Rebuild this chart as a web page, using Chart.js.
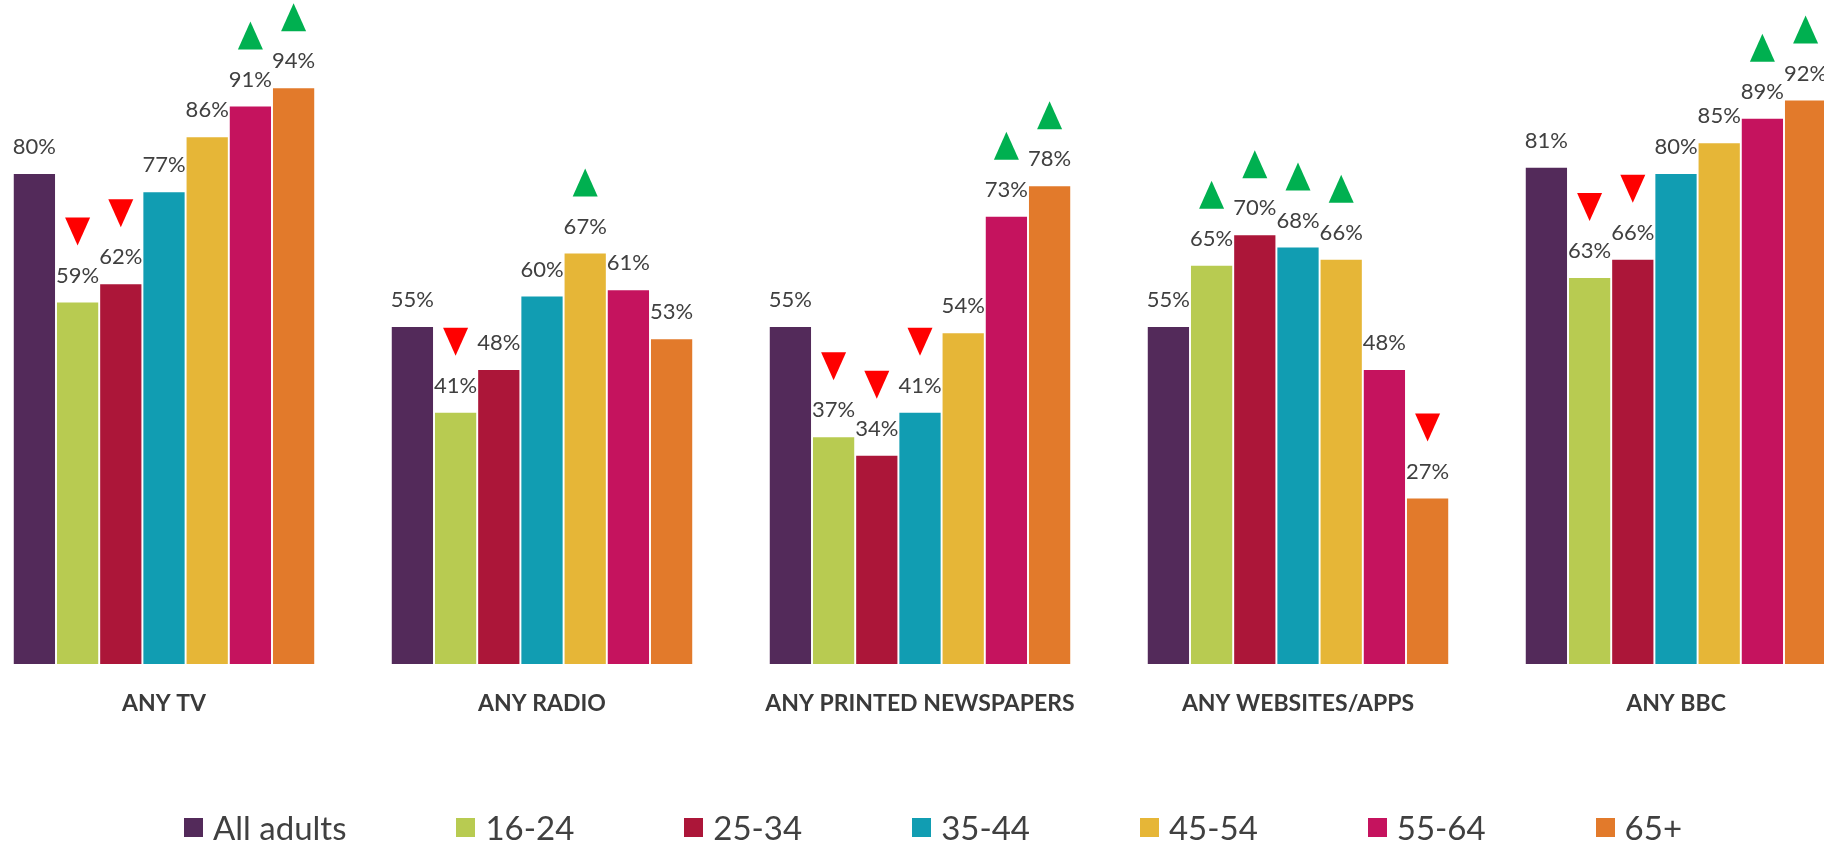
<!DOCTYPE html>
<html>
<head>
<meta charset="utf-8">
<script src="https://cdn.jsdelivr.net/npm/chart.js@4.4.1/dist/chart.umd.min.js"></script>
<style>
  html, body { margin: 0; padding: 0; width: 1824px; height: 841px; overflow: hidden; background: #fff; }
  #wrap { position: absolute; left: -25px; top: 0; width: 1890px; height: 841px; }
  #legend {
    position: absolute; left: -12px; width: 1890px; top: 807px;
    display: flex; justify-content: center;
    font-family: Lato, "Open Sans", sans-serif; font-size: 33px; line-height: 40px; color: #404040;
  }
  .item { display: flex; align-items: center; margin-right: 110px; white-space: nowrap; }
  .item:last-child { margin-right: 0; }
  .box { width: 19px; height: 19px; margin-right: 10px; }
</style>
</head>
<body>
<div id="wrap"><canvas id="c" width="1890" height="841"></canvas></div>
<div id="legend"></div>
<script>
// Reach of each medium by age group (%)
const categories = ['ANY TV', 'ANY RADIO', 'ANY PRINTED NEWSPAPERS', 'ANY WEBSITES/APPS', 'ANY BBC'];
const seriesNames = ['All adults', '16-24', '25-34', '35-44', '45-54', '55-64', '65+'];

const allAdults = [80, 55, 55, 55, 81];
const age16to24 = [59, 41, 37, 65, 63];
const age25to34 = [62, 48, 34, 70, 66];
const age35to44 = [77, 60, 41, 68, 80];
const age45to54 = [86, 67, 54, 66, 85];
const age55to64 = [91, 61, 73, 48, 89];
const age65plus = [94, 53, 78, 27, 92];

// Significance vs all adults: 1 = higher, -1 = lower, 0 = no difference
const sigAllAdults = [0, 0, 0, 0, 0];
const sig16to24 = [-1, -1, -1, 1, -1];
const sig25to34 = [-1, 0, -1, 1, -1];
const sig35to44 = [0, 0, -1, 1, 0];
const sig45to54 = [0, 1, 0, 1, 0];
const sig55to64 = [1, 0, 1, 0, 1];
const sig65plus = [1, 0, 1, -1, 1];

const seriesColors = ['#532A5A', '#B8CB51', '#AC1639', '#119DB2', '#E6B637', '#C5135E', '#E27A2B'];

const seriesValues = [allAdults, age16to24, age25to34, age35to44, age45to54, age55to64, age65plus];
const seriesSig = [sigAllAdults, sig16to24, sig25to34, sig35to44, sig45to54, sig55to64, sig65plus];

const FONT = 'Lato, "Open Sans", sans-serif';
const TEXT = '#404040';

// Draws the percentage above each bar and the up/down significance arrows
const barAnnotations = {
  id: 'barAnnotations',
  afterDatasetsDraw(chart) {
    const ctx = chart.ctx;
    ctx.save();
    chart.data.datasets.forEach((ds, di) => {
      const meta = chart.getDatasetMeta(di);
      meta.data.forEach((bar, i) => {
        const v = ds.data[i];
        const x = bar.x, top = bar.y;
        ctx.fillStyle = TEXT;
        ctx.font = '22px ' + FONT;
        ctx.textAlign = 'center';
        ctx.textBaseline = 'middle';
        ctx.fillText(v + '%', x, top - 27);
        const s = ds.sig[i];
        if (s !== 0) {
          const cy = top - 71, hw = 12.5, hh = 14;
          ctx.beginPath();
          if (s > 0) {
            ctx.moveTo(x, cy - hh);
            ctx.lineTo(x + hw, cy + hh);
            ctx.lineTo(x - hw, cy + hh);
            ctx.fillStyle = '#00B050';
          } else {
            ctx.moveTo(x - hw, cy - hh);
            ctx.lineTo(x + hw, cy - hh);
            ctx.lineTo(x, cy + hh);
            ctx.fillStyle = '#FF0000';
          }
          ctx.closePath();
          ctx.fill();
        }
      });
    });
    ctx.restore();
  }
};

const chart = new Chart(document.getElementById('c'), {
  type: 'bar',
  data: {
    labels: categories,
    datasets: seriesNames.map((name, k) => ({
      label: name,
      data: seriesValues[k],
      sig: seriesSig[k],
      backgroundColor: seriesColors[k],
      borderWidth: 0,
      categoryPercentage: 0.8,
      barPercentage: 0.955
    }))
  },
  options: {
    responsive: false,
    devicePixelRatio: 1,
    animation: false,
    layout: { padding: { top: 51.5, bottom: 97.5, left: 0, right: 0 } },
    plugins: {
      legend: { display: false },
      tooltip: { enabled: false }
    },
    scales: {
      x: {
        grid: { display: false, drawTicks: false },
        border: { display: false },
        ticks: {
          color: '#3a3a3a',
          padding: 26,
          maxRotation: 0,
          autoSkip: false,
          font: { family: FONT, size: 23, weight: 'bold' }
        }
      },
      y: { display: false, min: 0, max: 100 }
    }
  },
  plugins: [barAnnotations]
});

// Legend built from the chart's datasets
const legend = document.getElementById('legend');
chart.data.datasets.forEach(ds => {
  const item = document.createElement('div');
  item.className = 'item';
  const box = document.createElement('span');
  box.className = 'box';
  box.style.background = ds.backgroundColor;
  const label = document.createElement('span');
  label.textContent = ds.label;
  item.appendChild(box);
  item.appendChild(label);
  legend.appendChild(item);
});
</script>
</body>
</html>
